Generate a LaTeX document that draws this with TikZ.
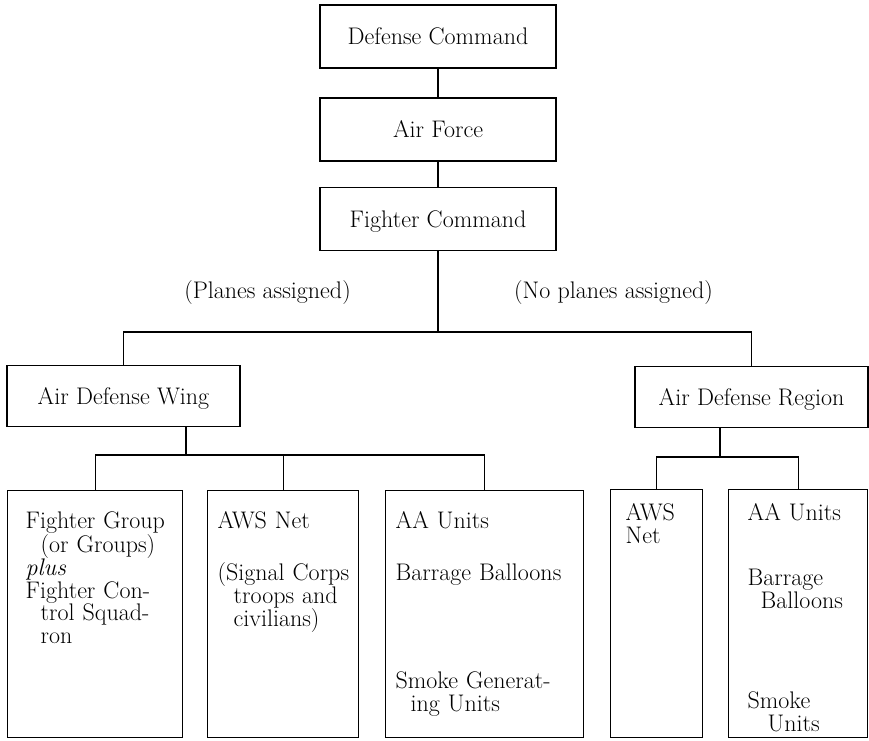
\documentclass[tikz,border=0pt]{standalone}
\tikzset{
        unit/.style={draw, line width=1.3pt, minimum width=236pt, minimum height=63pt, text depth=0pt},
        post/.style={draw, line width=1.3pt, anchor=north west, inner sep=0pt, align=left},
        textin/.style={execute at begin node={\leftskip=#1}},
        link/.style={line width=1.3pt}
}
\begin{document}
\begin{tikzpicture}[x=1pt, y=-1pt, every node/.style={font=\fontsize{24}{22.8}\selectfont}]
        \useasboundingbox (0,0) rectangle (869,740);
        \node [unit] (dc) at (438, 36.5) {Defense Command};
        \node [unit] (af) at (438, 129.5) {Air Force};
        \node [unit] (fc) at (438, 219) {Fighter Command};
        \node [anchor=base] (planes) at (267.5, 298) {(Planes assigned)};
        \node [anchor=base] (noplanes) at (613.5, 298) {(No planes assigned)};
        \node [unit, minimum width=233pt, minimum height=61pt] (adw) at (123.5, 396) {Air Defense Wing};
        \node [unit, minimum width=233pt, minimum height=61pt] (adr) at (751.5, 397) {Air Defense Region};
        \node [post, textin=18pt, text width=175pt, text height=38pt, text depth=209pt] (fg) at (7, 490)
                {Fighter Group\\\hspace*{15pt}(or Groups)\\\textit{plus}\\Fighter Con-\\\hspace*{15pt}trol Squad-\\\hspace*{15pt}ron};
        \node [post, textin=10pt, text width=151pt, text height=38pt, text depth=209pt] (aws) at (207, 490)
                {AWS Net\\[29.2pt](Signal Corps\\\hspace*{16pt}troops and\\\hspace*{16pt}civilians)};
        \node [post, textin=10pt, text width=198pt, text height=38pt, text depth=209pt] (aa) at (385, 490)
                {AA Units\\[29.2pt]Barrage Balloons\\[85.2pt]Smoke Generat-\\\hspace*{15pt}ing Units};
        \node [post, textin=15pt, text width=92pt, text height=31pt, text depth=217pt] (awsr) at (610, 489)
                {AWS\\Net};
        \node [post, textin=19pt, text width=139pt, text height=31pt, text depth=217pt] (aar) at (728, 489)
                {AA Units\\[42.2pt]Barrage\\\hspace*{13pt}Balloons\\[77.4pt]Smoke\\\hspace*{20pt}Units};
        \coordinate (split) at (438, 332);
        \coordinate (wing) at (186, 455);
        \coordinate (region) at (720, 457);
        \draw [link] (dc) -- (af);
        \draw [link] (af) -- (fc);
        \draw [link] (fc) -- (split);
        \draw [link] (adw) |- (split) -| (adr);
        \draw [link] (adw.south -| wing) -- (wing);
        \draw [link] (fg) |- (wing) -| (aa);
        \draw [link] (aws) -- (aws |- wing);
        \draw [link] (adr.south -| region) -- (region);
        \draw [link] (awsr) |- (region) -| (aar);
\end{tikzpicture}
\end{document}
